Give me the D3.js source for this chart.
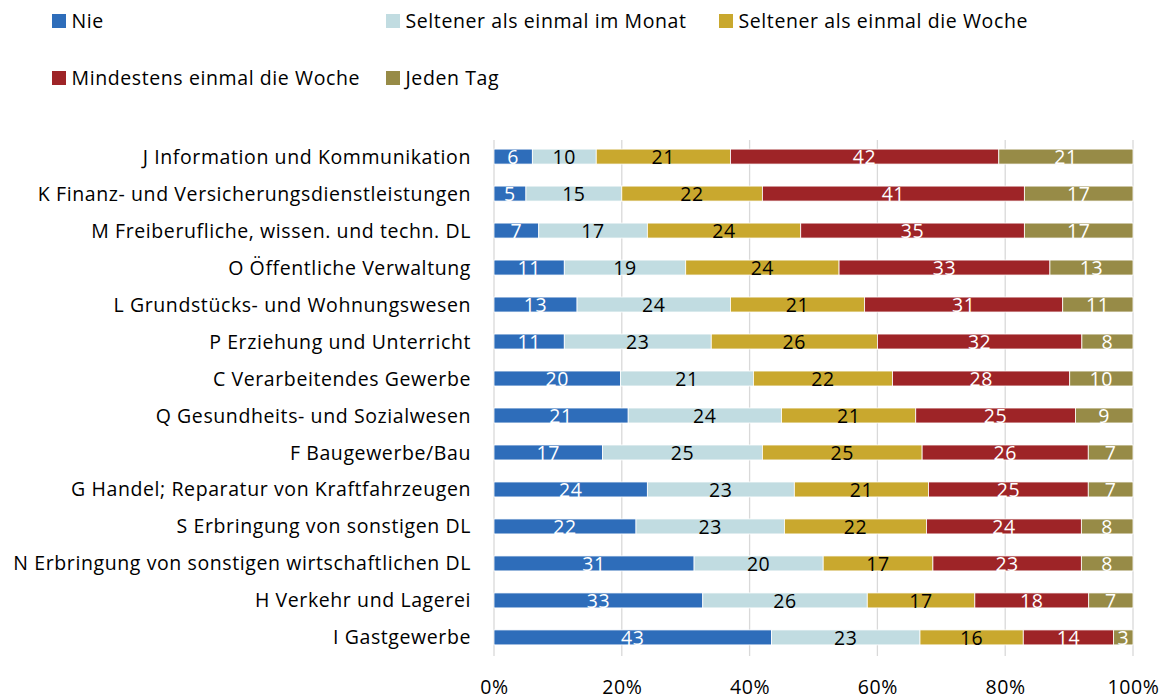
<!DOCTYPE html>
<html>
<head>
<meta charset="utf-8">
<script src="https://cdn.jsdelivr.net/npm/d3@7"></script>
<style>
  html, body { margin: 0; padding: 0; background: #fff; }
  svg text { font-family: "Open Sans", "Noto Sans", sans-serif; letter-spacing: 0.6px; }
</style>
</head>
<body>
<svg id="chart" width="1167" height="699"></svg>
<script>
// Branches (top to bottom)
const categories = [
  "J Information und Kommunikation",
  "K Finanz- und Versicherungsdienstleistungen",
  "M Freiberufliche, wissen. und techn. DL",
  "O Öffentliche Verwaltung",
  "L Grundstücks- und Wohnungswesen",
  "P Erziehung und Unterricht",
  "C Verarbeitendes Gewerbe",
  "Q Gesundheits- und Sozialwesen",
  "F Baugewerbe/Bau",
  "G Handel; Reparatur von Kraftfahrzeugen",
  "S Erbringung von sonstigen DL",
  "N Erbringung von sonstigen wirtschaftlichen DL",
  "H Verkehr und Lagerei",
  "I Gastgewerbe"
];

const seriesNames = [
  "Nie",
  "Seltener als einmal im Monat",
  "Seltener als einmal die Woche",
  "Mindestens einmal die Woche",
  "Jeden Tag"
];

// Shares in percent per series, in category order
const nie          = [6, 5, 7, 11, 13, 11, 20, 21, 17, 24, 22, 31, 33, 43];
const seltenMonat  = [10, 15, 17, 19, 24, 23, 21, 24, 25, 23, 23, 20, 26, 23];
const seltenWoche  = [21, 22, 24, 24, 21, 26, 22, 21, 25, 21, 22, 17, 17, 16];
const mindWoche    = [42, 41, 35, 33, 31, 32, 28, 25, 26, 25, 24, 23, 18, 14];
const jedenTag     = [21, 17, 17, 13, 11, 8, 10, 9, 7, 7, 8, 8, 7, 3];

const tickValues = [0, 0.2, 0.4, 0.6, 0.8, 1.0];

const colors = ["#2E6DBA", "#C1DCE1", "#C9A82E", "#9E2427", "#978B47"];
const labelColors = ["#fff", "#000", "#000", "#fff", "#fff"];

const seriesValues = [nie, seltenMonat, seltenWoche, mindWoche, jedenTag];

const FS = 19.5;

// Build rows with 100%-normalised stacks
const rows = categories.map((c, i) => {
  const row = { cat: c };
  seriesValues.forEach((vals, s) => { row[s] = vals[i]; });
  return row;
});

const stack = d3.stack()
  .keys(d3.range(seriesNames.length))
  .offset(d3.stackOffsetExpand);
const stacked = stack(rows);

const svg = d3.select("#chart");
const margin = { left: 494, right: 34, top: 140, bottom: 43 };
const W = 1167, H = 699;

const x = d3.scaleLinear().domain([0, 1]).range([margin.left, W - margin.right]);
const y = d3.scaleBand().domain(categories)
  .range([margin.top - 2, H - margin.bottom]).paddingInner(0.595).paddingOuter(0.3);

// Vertical gridlines
svg.append("g").selectAll("line").data(tickValues).join("line")
  .attr("x1", d => x(d)).attr("x2", d => x(d))
  .attr("y1", margin.top).attr("y2", H - margin.bottom)
  .attr("stroke", "#D9D9D9").attr("stroke-width", 1.3);

// Bars
const layer = svg.append("g").selectAll("g").data(stacked).join("g")
  .attr("fill", d => colors[d.key]);

layer.selectAll("rect").data(d => d).join("rect")
  .attr("x", d => x(d[0]))
  .attr("width", d => x(d[1]) - x(d[0]))
  .attr("y", d => y(d.data.cat))
  .attr("height", y.bandwidth())
  .attr("stroke", "#fff").attr("stroke-width", 0.8);

// Value labels
svg.append("g").selectAll("g").data(stacked).join("g")
  .attr("fill", d => labelColors[d.key])
  .selectAll("text").data(d => d.map(v => ({ v, key: d.key }))).join("text")
  .attr("x", d => (x(d.v[0]) + x(d.v[1])) / 2)
  .attr("y", d => y(d.v.data.cat) + y.bandwidth() / 2)
  .attr("dy", "0.4em")
  .attr("text-anchor", "middle")
  .attr("font-size", FS)
  .text(d => d.v.data[d.key]);

// Category axis labels
svg.append("g").selectAll("text").data(categories).join("text")
  .attr("x", margin.left - 23)
  .attr("y", d => y(d) + y.bandwidth() / 2)
  .attr("dy", "0.36em")
  .attr("text-anchor", "end")
  .attr("font-size", FS)
  .attr("fill", "#000")
  .text(d => d);

// Percent axis
const xAxis = d3.axisBottom(x).tickValues(tickValues)
  .tickFormat(d3.format(".0%")).tickSize(0).tickPadding(0);
const gx = svg.append("g").attr("transform", `translate(0, ${H - 11})`).call(xAxis);
gx.select(".domain").remove();
gx.selectAll("text").attr("font-size", FS).attr("fill", "#000")
  .style("font-family", "'Open Sans', 'Noto Sans', sans-serif").attr("dy", "0.32em").attr("y", 0);

// Legend
const legendPos = [
  { x: 52, y: 21 }, { x: 386, y: 21 }, { x: 719, y: 21 },
  { x: 52, y: 78 }, { x: 386, y: 78 }
];
const lg = svg.append("g").selectAll("g").data(seriesNames).join("g")
  .attr("transform", (d, i) => `translate(${legendPos[i].x}, ${legendPos[i].y})`);
lg.append("rect").attr("x", 0).attr("y", -7).attr("width", 14).attr("height", 14)
  .attr("fill", (d, i) => colors[i]);
lg.append("text").attr("x", 19.5).attr("dy", "0.36em")
  .attr("font-size", FS).attr("fill", "#000").text(d => d);
</script>
</body>
</html>
